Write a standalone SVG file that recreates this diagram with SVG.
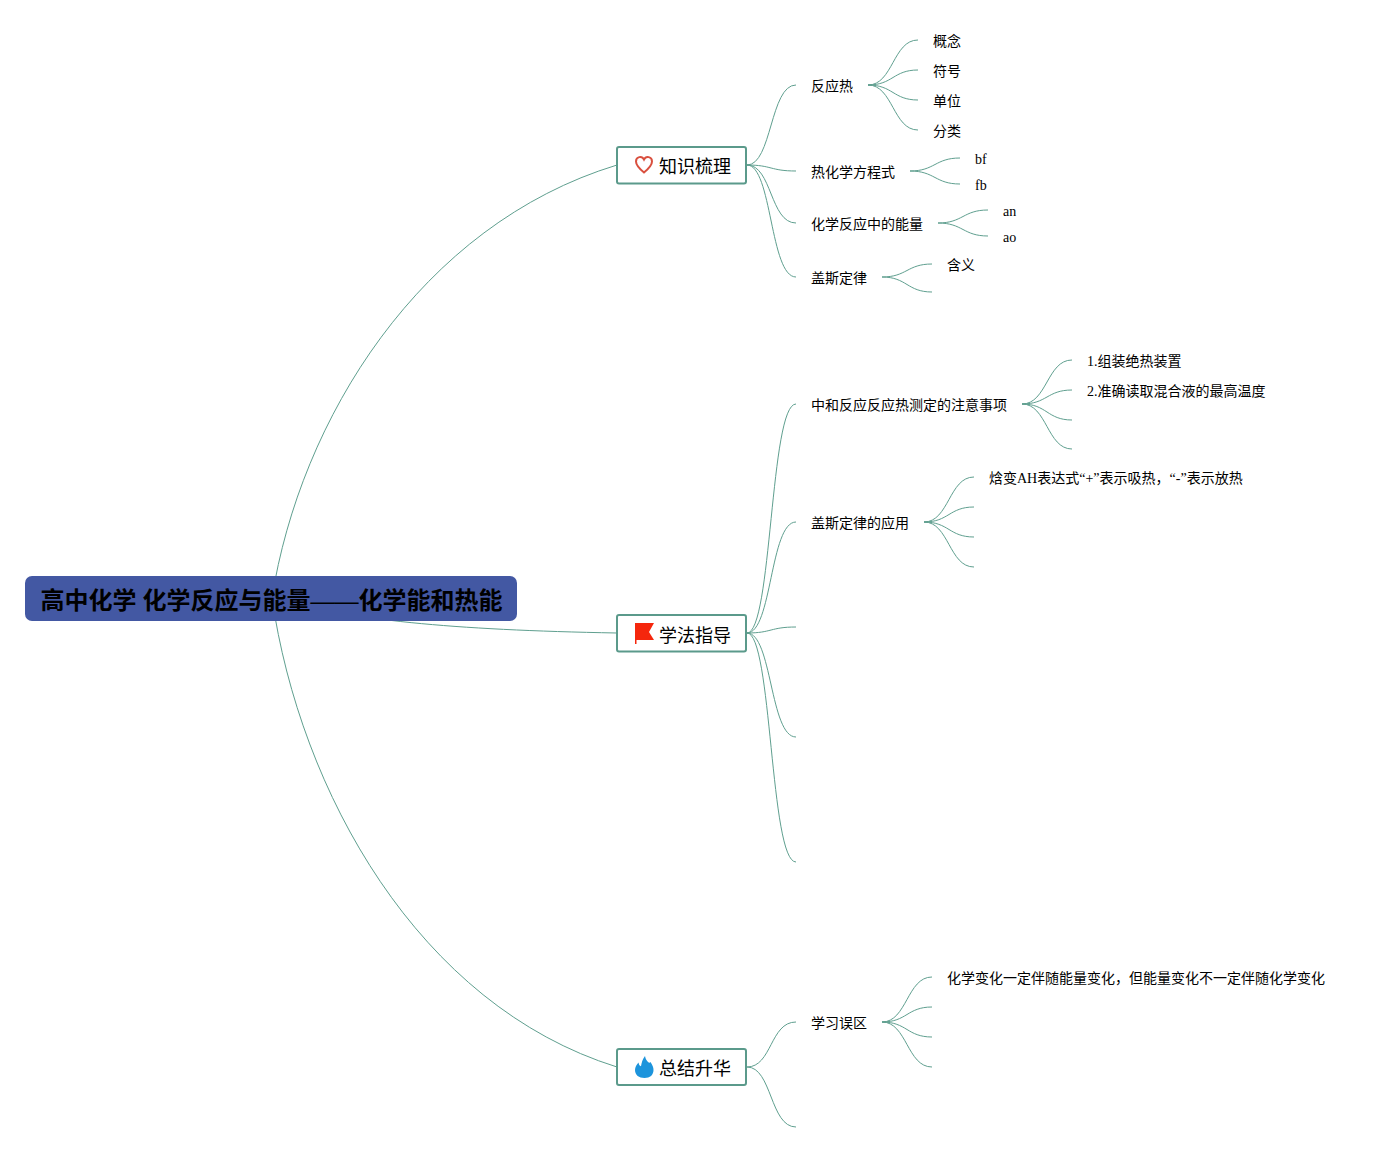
<svg xmlns="http://www.w3.org/2000/svg" width="1385" height="1152" viewBox="0 0 1385 1152">
<style>
text{font-family:"Liberation Serif","Noto Sans CJK SC",serif;fill:#000}
.l{font-size:14px}
.m{font-size:18px}
.r{font-size:24px;font-weight:bold}
.c{fill:none;stroke:#5f9f8f;stroke-width:1}
.n{fill:#fff;stroke:#5b9a8b;stroke-width:2}
</style>
<rect width="1385" height="1152" fill="#fff"/>
<g id="connectors">
<path class="c" d="M272,598C300,420 420,225 617,165"/>
<path class="c" d="M272,598C300,791 418,1005 617,1067"/>
<path class="c" d="M272,598C350,620 450,630 617,633"/>
<path class="c" d="M747,165C772,165 770,85 796,85"/>
<path class="c" d="M747,165C772,165 770,171 796,171"/>
<path class="c" d="M747,165C772,165 770,223 796,223"/>
<path class="c" d="M747,165C772,165 770,277 796,277"/>
<path class="c" d="M868,85C893,85 893,40 918,40"/>
<path class="c" d="M868,85C893,85 893,70 918,70"/>
<path class="c" d="M868,85C893,85 893,100 918,100"/>
<path class="c" d="M868,85C893,85 893,130 918,130"/>
<path class="c" d="M910,171C935,171 935,158 960,158"/>
<path class="c" d="M910,171C935,171 935,184 960,184"/>
<path class="c" d="M938,223C963,223 963,210 988,210"/>
<path class="c" d="M938,223C963,223 963,236 988,236"/>
<path class="c" d="M882,277C907,277 907,264 932,264"/>
<path class="c" d="M882,277C907,277 907,292 932,292"/>
<path class="c" d="M747,633C772,633 770,404 796,404"/>
<path class="c" d="M747,633C772,633 770,522 796,522"/>
<path class="c" d="M747,633C772,633 770,627 796,627"/>
<path class="c" d="M747,633C772,633 770,737 796,737"/>
<path class="c" d="M747,633C772,633 770,862 796,862"/>
<path class="c" d="M1022,404C1047,404 1047,360 1072,360"/>
<path class="c" d="M1022,404C1047,404 1047,390 1072,390"/>
<path class="c" d="M1022,404C1047,404 1047,420 1072,420"/>
<path class="c" d="M1022,404C1047,404 1047,449 1072,449"/>
<path class="c" d="M924,522C949,522 949,477 974,477"/>
<path class="c" d="M924,522C949,522 949,507 974,507"/>
<path class="c" d="M924,522C949,522 949,537 974,537"/>
<path class="c" d="M924,522C949,522 949,567 974,567"/>
<path class="c" d="M747,1067C772,1067 770,1022 796,1022"/>
<path class="c" d="M747,1067C772,1067 770,1127 796,1127"/>
<path class="c" d="M882,1022C907,1022 907,977 932,977"/>
<path class="c" d="M882,1022C907,1022 907,1007 932,1007"/>
<path class="c" d="M882,1022C907,1022 907,1037 932,1037"/>
<path class="c" d="M882,1022C907,1022 907,1067 932,1067"/>
</g>
<g id="root"><rect x="25" y="576" width="492" height="45" rx="7" fill="#4358a3"/><text class="r" x="40.500" y="609">高中化学 化学反应与能量——化学能和热能</text></g>
<g id="n1"><rect class="n" x="617" y="147" width="129" height="36.500" rx="2"/>
<path d="M644,172.500C638,167.500 636,165 636,161.500C636,156.500 642,155.500 644,159.500C646,155.500 652,156.500 652,161.500C652,165 650,167.500 644,172.500Z" fill="#fff" stroke="#d9503f" stroke-width="2"/>
<text class="m" x="659" y="173">知识梳理</text></g>
<g id="n2"><rect class="n" x="617" y="615" width="129" height="36.500" rx="2"/>
<path d="M635,623H654L649,632L654,640H636.500V644H635Z" fill="#f5270d"/>
<text class="m" x="659" y="642">学法指导</text></g>
<g id="n3"><rect class="n" x="617" y="1049" width="129" height="36" rx="2"/>
<path d="M645,1056C645.500,1059 646.500,1060.500 648,1062C649,1063 650,1063 650.500,1062C652.500,1065 653.500,1067.500 653.500,1070C653.500,1075 650,1078 644.500,1078C639,1078 635,1075 635,1070C635,1067.500 636.500,1064.500 638.500,1062.500C638.800,1064.500 639.500,1065.800 641,1066.300C641.500,1063 642.500,1059 645,1056Z" fill="#1d94dc"/>
<text class="m" x="659" y="1075">总结升华</text></g>
<g id="t1"><text class="l" x="811" y="91">反应热</text></g>
<g id="t2"><text class="l" x="933" y="46">概念</text></g>
<g id="t3"><text class="l" x="933" y="76">符号</text></g>
<g id="t4"><text class="l" x="933" y="106">单位</text></g>
<g id="t5"><text class="l" x="933" y="136">分类</text></g>
<g id="t6"><text class="l" x="811" y="177">热化学方程式</text></g>
<g id="t7"><text class="l" x="975" y="164">bf</text></g>
<g id="t8"><text class="l" x="975" y="190">fb</text></g>
<g id="t9"><text class="l" x="811" y="229">化学反应中的能量</text></g>
<g id="t10"><text class="l" x="1003" y="216">an</text></g>
<g id="t11"><text class="l" x="1003" y="242">ao</text></g>
<g id="t12"><text class="l" x="811" y="283">盖斯定律</text></g>
<g id="t13"><text class="l" x="947" y="270">含义</text></g>
<g id="t14"><text class="l" x="811" y="410">中和反应反应热测定的注意事项</text></g>
<g id="t15"><text class="l" x="1087" y="366">1.组装绝热装置</text></g>
<g id="t16"><text class="l" x="1087" y="396">2.准确读取混合液的最高温度</text></g>
<g id="t17"><text class="l" x="811" y="528">盖斯定律的应用</text></g>
<g id="t18"><text class="l" x="989" y="483">焓变AH表达式“+”表示吸热，“-”表示放热</text></g>
<g id="t19"><text class="l" x="811" y="1028">学习误区</text></g>
<g id="t20"><text class="l" x="947" y="983">化学变化一定伴随能量变化，但能量变化不一定伴随化学变化</text></g>
</svg>
